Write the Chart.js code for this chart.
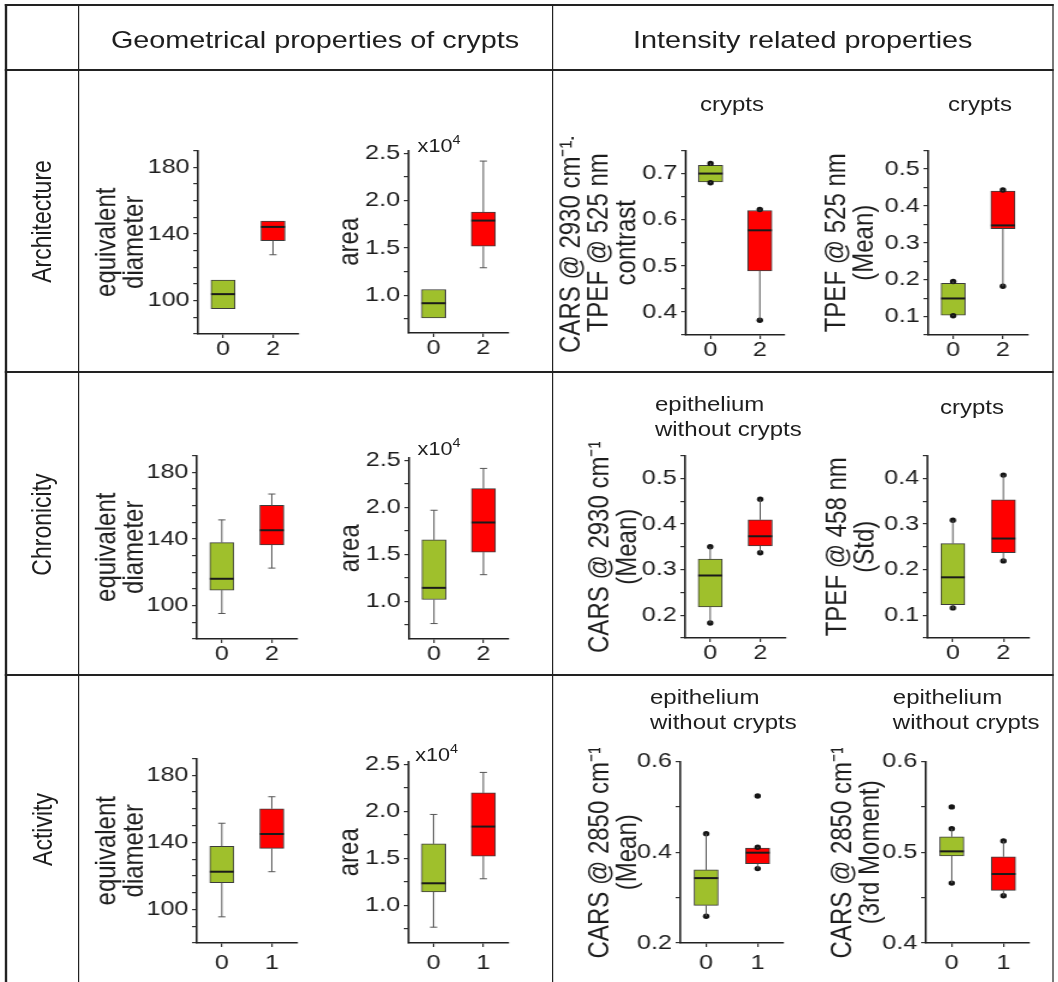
<!DOCTYPE html>
<html>
<head>
<meta charset="utf-8">
<script src="https://cdn.jsdelivr.net/npm/chart.js@4.4.0/dist/chart.umd.min.js"></script>
<style>
  html, body { margin: 0; padding: 0; background: #fff; }
  body { width: 1058px; height: 982px; overflow: hidden; position: relative;
         font-family: "Liberation Sans", Arial, sans-serif; color: #1e1e1e; }
  /* the reference figure is stretched horizontally, so the whole sheet is drawn narrow and scaled */
  #stage { position: absolute; left: 0; top: 0; width: 881.67px; height: 982px;
           transform: scaleX(1.2); transform-origin: 0 0; }
  .hl { position: absolute; height: 2px; background: #222; }
  .vl { position: absolute; width: 1.6px; background: #222; }
  .cell { position: absolute; display: flex; align-items: center; justify-content: center; font-size: 24px; }
  .row { font-size: 23px; }
  .rot { transform: rotate(-90deg); white-space: nowrap; }
  .panel { position: absolute; }
  .ptitle { position: absolute; font-size: 20px; line-height: 25px; white-space: nowrap; }
  .center { transform: translateX(-50%); text-align: center; }
  .exp { position: absolute; font-size: 18px; white-space: nowrap; }
  .exp sup { font-size: 12px; vertical-align: 8px; line-height: 0; }
</style>
</head>
<body>
<div id="stage">
  <div class="hl" style="left:4px;top:4px;width:874px"></div>
  <div class="hl" style="left:4px;top:69px;width:874px"></div>
  <div class="hl" style="left:4px;top:371px;width:874px"></div>
  <div class="hl" style="left:4px;top:674px;width:874px"></div>
  <div class="vl" style="left:4px;top:4px;height:978px"></div>
  <div class="vl" style="left:64.5px;top:4px;height:978px"></div>
  <div class="vl" style="left:459.5px;top:4px;height:978px"></div>
  <div class="vl" style="left:876.5px;top:4px;height:978px"></div>

  <div class="cell" style="left:65px;top:8px;width:395px;height:64px">Geometrical properties of crypts</div>
  <div class="cell" style="left:461px;top:8px;width:416px;height:64px">Intensity related properties</div>

  <div class="cell row" style="left:5px;top:71px;width:60px;height:301px"><span class="rot">Architecture</span></div>
  <div class="cell row" style="left:5px;top:373px;width:60px;height:302px"><span class="rot">Chronicity</span></div>
  <div class="cell row" style="left:5px;top:676px;width:60px;height:306px"><span class="rot">Activity</span></div>

  <div class="ptitle center" style="left:610px;top:92px">crypts</div>
  <div class="ptitle center" style="left:816.7px;top:92px">crypts</div>
  <div class="ptitle" style="left:545.8px;top:392px">epithelium<br>without crypts</div>
  <div class="ptitle center" style="left:810px;top:395px">crypts</div>
  <div class="ptitle" style="left:541.7px;top:685px">epithelium<br>without crypts</div>
  <div class="ptitle" style="left:744px;top:685px">epithelium<br>without crypts</div>

  <div class="exp" style="left:348px;top:136px">x10<sup>4</sup></div>
  <div class="exp" style="left:348px;top:439px">x10<sup>4</sup></div>
  <div class="exp" style="left:346px;top:745px">x10<sup>4</sup></div>
</div>

<script>
const S = 1.2;
const FONT = "'Liberation Sans', Arial, sans-serif";
const GREEN = '#9fc02c';
const RED = '#ff0000';

// categories (score groups)
const groupsArchChron = ['0', '2'];
const groupsActivity = ['0', '1'];

// box values per group: [min, q1, median, q3, max]
const archDiameter  = [[95.2, 95.2, 103.9, 112.3, 112.3], [127.5, 136.0, 144.2, 147.7, 147.7]];
const archArea      = [[0.76, 0.76, 0.915, 1.06, 1.06], [1.29, 1.517, 1.789, 1.878, 2.418]];
const archContrast  = [[0.680, 0.682, 0.700, 0.718, 0.722], [0.382, 0.489, 0.577, 0.620, 0.622]];
const archTpefMean  = [[0.102, 0.104, 0.149, 0.190, 0.195], [0.182, 0.338, 0.347, 0.440, 0.443]];
const chronDiameter = [[95.3, 109.3, 116.1, 137.8, 151.4], [122.5, 136.4, 145.2, 160.1, 166.9]];
const chronArea     = [[0.764, 1.02, 1.144, 1.654, 1.969], [1.284, 1.524, 1.839, 2.199, 2.414]];
const chronCarsMean = [[0.183, 0.218, 0.287, 0.323, 0.350], [0.337, 0.352, 0.373, 0.409, 0.454]];
const chronTpefStd  = [[0.114, 0.123, 0.183, 0.257, 0.308], [0.219, 0.237, 0.268, 0.353, 0.407]];
const actDiameter   = [[95.6, 116.0, 122.5, 137.6, 151.4], [122.5, 136.4, 145.0, 160.0, 167.2]];
const actArea       = [[0.768, 1.143, 1.235, 1.654, 1.967], [1.283, 1.524, 1.838, 2.196, 2.414]];
const actCarsMean   = [[0.259, 0.283, 0.343, 0.361, 0.441], [0.364, 0.375, 0.399, 0.409, 0.411]];
const actCarsMoment = [[0.466, 0.496, 0.501, 0.517, 0.526], [0.452, 0.458, 0.476, 0.495, 0.5125]];

// marked single points per group
const noDots            = [[], []];
const archContrastDots  = [[0.722, 0.680], [0.622, 0.382]];
const archTpefMeanDots  = [[0.195, 0.102], [0.443, 0.182]];
const chronCarsMeanDots = [[0.350, 0.183], [0.454, 0.337]];
const chronTpefStdDots  = [[0.308, 0.116], [0.407, 0.219]];
const actCarsMeanDots   = [[0.441, 0.259], [0.524, 0.411, 0.364]];
const actCarsMomentDots = [[0.550, 0.526, 0.466], [0.5125, 0.452]];

// y tick labels
const diameterTicks   = ['100', '140', '180'];
const areaTicks       = ['1.0', '1.5', '2.0', '2.5'];
const contrastTicks   = ['0.4', '0.5', '0.6', '0.7'];
const tpefMeanTicks   = ['0.1', '0.2', '0.3', '0.4', '0.5'];
const carsMeanTicks   = ['0.2', '0.3', '0.4', '0.5'];
const tpefStdTicks    = ['0.1', '0.2', '0.3', '0.4'];
const cars2850Ticks   = ['0.2', '0.4', '0.6'];
const momentTicks     = ['0.4', '0.5', '0.6'];

// layout in picture pixels: ax = y axis x, top/bottom of y axis, xEnd = end of x axis, d1 = title offset
const panels = [
  { groups: groupsArchChron, box: archDiameter, dots: noDots, caps: true, ticks: diameterTicks, min: 80, max: 190, step: 10,
    title: ['equivalent', 'diameter'], ax: 198, top: 145, bottom: 334, xEnd: 298, d1: 76, xpad: 1 },
  { groups: groupsArchChron, box: archArea, dots: noDots, caps: true, ticks: areaTicks, min: 0.6, max: 2.53, step: 0.25,
    title: ['area'], ax: 408, top: 145, bottom: 333, xEnd: 507, d1: 49, xpad: 1 },
  { groups: groupsArchChron, box: archContrast, dots: archContrastDots, caps: false, ticks: contrastTicks, min: 0.35, max: 0.75, step: 0.05,
    title: ['CARS @ 2930 cm⁻¹-', 'TPEF @ 525 nm', 'contrast'], ax: 685, top: 145, bottom: 335, xEnd: 783, d1: 95, xpad: 1 },
  { groups: groupsArchChron, box: archTpefMean, dots: archTpefMeanDots, caps: false, ticks: tpefMeanTicks, min: 0.05, max: 0.55, step: 0.05,
    title: ['TPEF @ 525 nm', '(Mean)'], ax: 928, top: 145, bottom: 335, xEnd: 1027, d1: 76, xpad: 1 },
  { groups: groupsArchChron, box: chronDiameter, dots: noDots, caps: true, ticks: diameterTicks, min: 80, max: 190, step: 10,
    title: ['equivalent', 'diameter'], ax: 197, top: 450, bottom: 639, xEnd: 297, d1: 75, xpad: 1 },
  { groups: groupsArchChron, box: chronArea, dots: noDots, caps: true, ticks: areaTicks, min: 0.6, max: 2.53, step: 0.25,
    title: ['area'], ax: 409, top: 452, bottom: 639, xEnd: 508, d1: 49, xpad: 1 },
  { groups: groupsArchChron, box: chronCarsMean, dots: chronCarsMeanDots, caps: false, ticks: carsMeanTicks, min: 0.15, max: 0.55, step: 0.05,
    title: ['CARS @ 2930 cm⁻¹', '(Mean)'], ax: 685, top: 450, bottom: 638, xEnd: 785, d1: 71, xpad: 1 },
  { groups: groupsArchChron, box: chronTpefStd, dots: chronTpefStdDots, caps: false, ticks: tpefStdTicks, min: 0.05, max: 0.45, step: 0.05,
    title: ['TPEF @ 458 nm', '(Std)'], ax: 927, top: 450, bottom: 638, xEnd: 1028, d1: 75, xpad: 1 },
  { groups: groupsActivity, box: actDiameter, dots: noDots, caps: true, ticks: diameterTicks, min: 80, max: 190, step: 10,
    title: ['equivalent', 'diameter'], ax: 197, top: 753, bottom: 943, xEnd: 297, d1: 75, xpad: 6 },
  { groups: groupsActivity, box: actArea, dots: noDots, caps: true, ticks: areaTicks, min: 0.6, max: 2.53, step: 0.25,
    title: ['area'], ax: 408, top: 756, bottom: 943, xEnd: 507, d1: 49, xpad: 6 },
  { groups: groupsActivity, box: actCarsMean, dots: actCarsMeanDots, caps: false, ticks: cars2850Ticks, min: 0.2, max: 0.6, step: 0.1,
    title: ['CARS @ 2850 cm⁻¹', '(Mean)'], ax: 680, top: 756, bottom: 943, xEnd: 783, d1: 67, xpad: 6 },
  { groups: groupsActivity, box: actCarsMoment, dots: actCarsMomentDots, caps: false, ticks: momentTicks, min: 0.4, max: 0.6, step: 0.05,
    title: ['CARS @ 2850 cm⁻¹', '(3rd Moment)'], ax: 925, top: 756, bottom: 943, xEnd: 1028, d1: 69, xpad: 6 }
];

Chart.defaults.font.family = FONT;
Chart.defaults.color = '#1e1e1e';
Chart.defaults.animation = false;

const stage = document.getElementById('stage');
const YW = 120, XH = 40, PT = 8, PR = 6, TITLE_SIZE = 24, TITLE_LH = 23;

function makePanel(p) {
  const wrap = document.createElement('div');
  wrap.className = 'panel';
  const w = YW + (p.xEnd - p.ax) / S + PR;
  const h = PT + (p.bottom - p.top) + XH;
  wrap.style.left = (p.ax / S - YW) + 'px';
  wrap.style.top = (p.top - PT) + 'px';
  wrap.style.width = w + 'px';
  wrap.style.height = h + 'px';
  const cv = document.createElement('canvas');
  wrap.appendChild(cv);
  stage.appendChild(wrap);

  const majors = p.ticks.map(Number);
  const dots = [];
  p.dots.forEach((arr, i) => arr.forEach(v => dots.push({ x: p.groups[i], y: v })));

  // whiskers, caps and medians on top of the floating bars
  const whiskers = {
    id: 'whiskers',
    afterDatasetsDraw(chart) {
      const { ctx, scales: { x, y } } = chart;
      ctx.save();
      p.box.forEach((b, i) => {
        const xc = x.getPixelForValue(i);
        const [mn, q1, md, q3, mx] = b.map(v => y.getPixelForValue(v));
        ctx.strokeStyle = '#555';
        ctx.lineWidth = 1;
        ctx.beginPath();
        if (mx < q3 - 0.5) {
          ctx.moveTo(xc, q3); ctx.lineTo(xc, mx);
          if (p.caps) { ctx.moveTo(xc - 3, mx); ctx.lineTo(xc + 3, mx); }
        }
        if (mn > q1 + 0.5) {
          ctx.moveTo(xc, q1); ctx.lineTo(xc, mn);
          if (p.caps) { ctx.moveTo(xc - 3, mn); ctx.lineTo(xc + 3, mn); }
        }
        ctx.stroke();
        ctx.strokeStyle = '#1a1a1a';
        ctx.lineWidth = 2;
        ctx.beginPath();
        ctx.moveTo(xc - 10, md); ctx.lineTo(xc + 10, md);
        ctx.stroke();
      });
      ctx.restore();
    }
  };

  new Chart(cv, {
    type: 'bar',
    data: {
      labels: p.groups,
      datasets: [
        { type: 'line', data: dots, showLine: false, pointRadius: 2.7, pointHoverRadius: 2.7,
          pointBackgroundColor: '#151515', pointBorderWidth: 0, order: 0 },
        { data: p.box.map(b => [b[1], b[3]]), backgroundColor: [GREEN, RED], borderColor: '#3c3c3c',
          borderWidth: 1, borderSkipped: false, barThickness: 20, order: 1 }
      ]
    },
    options: {
      responsive: true,
      maintainAspectRatio: false,
      layout: { autoPadding: false, padding: { top: PT, right: PR, left: 0, bottom: 0 } },
      plugins: { legend: { display: false }, tooltip: { enabled: false } },
      events: [],
      scales: {
        x: {
          offset: true,
          grid: { offset: false, drawOnChartArea: false, drawTicks: true, tickLength: 4, color: '#333', lineWidth: 1.2 },
          border: { display: true, color: '#222', width: 1.6 },
          ticks: { font: { size: 21, lineHeight: 1 }, padding: p.xpad, maxRotation: 0 },
          afterFit(s) { s.height = XH; }
        },
        y: {
          min: p.min,
          max: p.max,
          grid: { drawOnChartArea: false, drawTicks: true, tickLength: 4, color: '#333', lineWidth: 1.2 },
          border: { display: true, color: '#222', width: 1.6 },
          ticks: {
            autoSkip: false,
            padding: 3,
            font: { size: 21, lineHeight: 1 },
            callback(v) {
              const k = majors.findIndex(m => Math.abs(m - v) < 1e-6);
              return k >= 0 ? p.ticks[k] : '';
            }
          },
          afterBuildTicks(s) {
            const list = [];
            const n0 = Math.ceil(p.min / p.step - 1e-6);
            const n1 = Math.floor(p.max / p.step + 1e-6);
            for (let n = n0; n <= n1; n++) list.push({ value: +(n * p.step).toFixed(6) });
            s.ticks = list;
          },
          title: {
            display: true,
            text: p.title,
            font: { size: TITLE_SIZE, lineHeight: TITLE_LH / TITLE_SIZE },
            padding: { top: YW - p.d1 - TITLE_LH / 2, bottom: 0 }
          },
          afterFit(s) { s.width = YW; }
        }
      }
    },
    plugins: [whiskers]
  });
}

panels.forEach(makePanel);
</script>
</body>
</html>
